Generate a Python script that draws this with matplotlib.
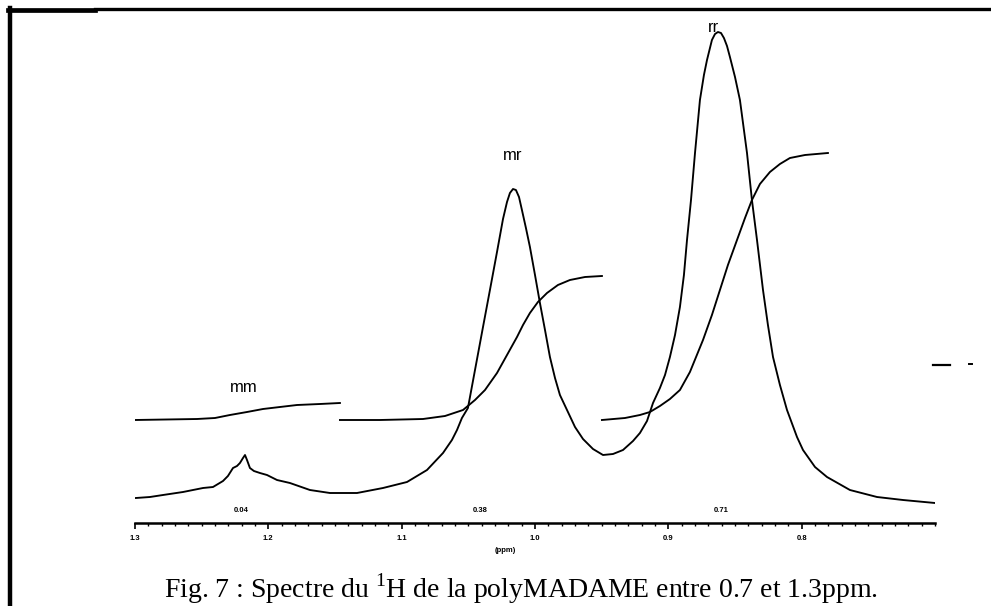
import matplotlib
matplotlib.use("Agg")
import matplotlib.pyplot as plt
from matplotlib.ticker import MultipleLocator, FixedLocator
from matplotlib.lines import Line2D

plt.rcParams['font.family'] = ['Liberation Sans', 'DejaVu Sans']
plt.rcParams['mathtext.fontset'] = 'custom'
plt.rcParams['mathtext.rm'] = 'Liberation Serif'

# spectre 1H (ppm, intensite arbitraire)
spec_ppm = [1.2993, 1.2888, 1.279, 1.264, 1.249, 1.2415, 1.234, 1.2303, 1.2265, 1.2235,
            1.2213, 1.219, 1.2175, 1.216, 1.2138, 1.2108, 1.2063, 1.201, 1.1935, 1.1838,
            1.1688, 1.1538, 1.1335, 1.114, 1.096, 1.081, 1.069, 1.0623, 1.0585, 1.0548,
            1.0503, 1.045, 1.039, 1.0338, 1.0285, 1.024, 1.021, 1.0188, 1.0165, 1.0143,
            1.012, 1.0098, 1.0068, 1.0038, 1.0, 0.9963, 0.9925, 0.9888, 0.985, 0.9813,
            0.976, 0.970, 0.964, 0.9565, 0.949, 0.9415, 0.934, 0.9265, 0.9213, 0.916,
            0.9115, 0.9063, 0.9025, 0.8988, 0.895, 0.8913, 0.8883, 0.886, 0.883, 0.880,
            0.8763, 0.8733, 0.871, 0.8673, 0.865, 0.8628, 0.8605, 0.8583, 0.856, 0.8538,
            0.850, 0.8463, 0.841, 0.8373, 0.8335, 0.829, 0.8253, 0.8215, 0.8163, 0.811,
            0.8035, 0.799, 0.790, 0.781, 0.7638, 0.7435, 0.724, 0.700]
spec_int = [25, 26, 28, 31, 35, 36, 42, 47, 55, 57,
            60, 65, 68, 63, 55, 52, 50, 48, 43, 40,
            33, 30, 30, 35, 41, 53, 70, 83, 93, 105,
            115, 153, 196, 233, 271, 304, 321, 330, 334, 333,
            326, 313, 295, 276, 248, 220, 193, 166, 145, 128,
            113, 96, 84, 74, 68, 69, 73, 82, 90, 102,
            120, 135, 148, 166, 188, 216, 248, 283, 323, 370,
            423, 448, 463, 483, 489, 491, 490, 485, 477, 466,
            446, 423, 370, 323, 283, 233, 198, 166, 138, 113,
            86, 73, 56, 46, 33, 26, 23, 20]

# courbes d'integration
int_mm_ppm = [1.300, 1.2535, 1.240, 1.2288, 1.216, 1.204, 1.1913, 1.1785, 1.1613, 1.1463]
int_mm_val = [103, 104, 105, 108, 111, 114, 116, 118, 119, 120]
int_mr_ppm = [1.1463, 1.1163, 1.084, 1.0675, 1.054, 1.045, 1.0375, 1.0285, 1.021, 1.0135,
              1.009, 1.0038, 0.9978, 0.991, 0.9828, 0.9738, 0.9625, 0.9498]
int_mr_val = [103, 103, 104, 107, 113, 123, 133, 150, 168, 186,
              198, 210, 221, 230, 238, 243, 246, 247]
int_rr_ppm = [0.9498, 0.9325, 0.9213, 0.9138, 0.9063, 0.8988, 0.8913, 0.8838, 0.874, 0.8673,
              0.8613, 0.8553, 0.8485, 0.8425, 0.8373, 0.8313, 0.8238, 0.8163, 0.8088, 0.7975,
              0.7803]
int_rr_val = [103, 105, 108, 111, 117, 124, 133, 151, 183, 208,
              233, 258, 283, 305, 323, 339, 351, 359, 365, 368,
              370]

peak_names = ['mm', 'mr', 'rr']
peak_pos = [1.2185, 1.0165, 0.866]
peak_lab_y = [136, 368, 496]
integ_txt = ['0.04', '0.38', '0.71']
integ_pos = [1.22, 1.041, 0.860]

tick_major = [1.3, 1.2, 1.1, 1.0, 0.9, 0.8]
tick_labels = ['1.3', '1.2', '1.1', '1.0', '0.9', '0.8']

W, H = 991, 606
fig = plt.figure(figsize=(W / 100, H / 100), dpi=100)
ax = fig.add_axes([135 / W, (H - 523) / H, 800 / W, (523 - 15) / H])
ax.set_xlim(1.3, 0.7)
ax.set_ylim(0, 508)

lw = 1.35
ax.plot(spec_ppm, spec_int, color='black', lw=lw, solid_joinstyle='round')
ax.plot(int_mm_ppm, int_mm_val, color='black', lw=lw, solid_joinstyle='round')
ax.plot(int_mr_ppm, int_mr_val, color='black', lw=lw, solid_joinstyle='round')
ax.plot(int_rr_ppm, int_rr_val, color='black', lw=lw, solid_joinstyle='round')

for name, x, y in zip(peak_names, peak_pos, peak_lab_y):
    ax.text(x, y, name, ha='center', va='center', fontsize=12)
for t, x in zip(integ_txt, integ_pos):
    ax.text(x, 12, t, ha='center', va='center', fontsize=5.5, fontweight='bold')
ax.text(1.0225, -27, '(ppm)', ha='center', va='center', fontsize=5.5,
        fontweight='bold', clip_on=False)

for s in ['top', 'left', 'right']:
    ax.spines[s].set_visible(False)
ax.spines['bottom'].set_linewidth(1.8)
ax.set_yticks([])
ax.xaxis.set_major_locator(FixedLocator(tick_major))
ax.set_xticklabels(tick_labels, fontsize=5.5, fontweight='bold')
ax.xaxis.set_minor_locator(MultipleLocator(0.01))
ax.tick_params(axis='x', which='major', length=4, width=1.2, pad=5)
ax.tick_params(axis='x', which='minor', length=2.5, width=1.0)
ax.patch.set_visible(False)

# cadre scanne
fig.add_artist(Line2D([9.5 / W, 9.5 / W], [0, 1 - 8 / H], color='black', lw=3.2))
fig.add_artist(Line2D([8 / W, 95 / W], [1 - 9.5 / H, 1 - 9.5 / H], color='black', lw=3.4))
fig.add_artist(Line2D([95 / W, 1], [1 - 8.5 / H, 1 - 8.5 / H], color='black', lw=2.4))
fig.add_artist(Line2D([933 / W, 950 / W], [1 - 365 / H, 1 - 365 / H], color='black', lw=1.6))
fig.add_artist(Line2D([969 / W, 972 / W], [1 - 364 / H, 1 - 364 / H], color='black', lw=1.4))

fig.text(521 / W, 1 - 598 / H,
         'Fig. 7 : Spectre du $^{1}$H de la polyMADAME entre 0.7 et 1.3ppm.',
         ha='center', va='baseline', fontsize=20, family=['Liberation Serif'])

fig.savefig('out.png', dpi=100)
